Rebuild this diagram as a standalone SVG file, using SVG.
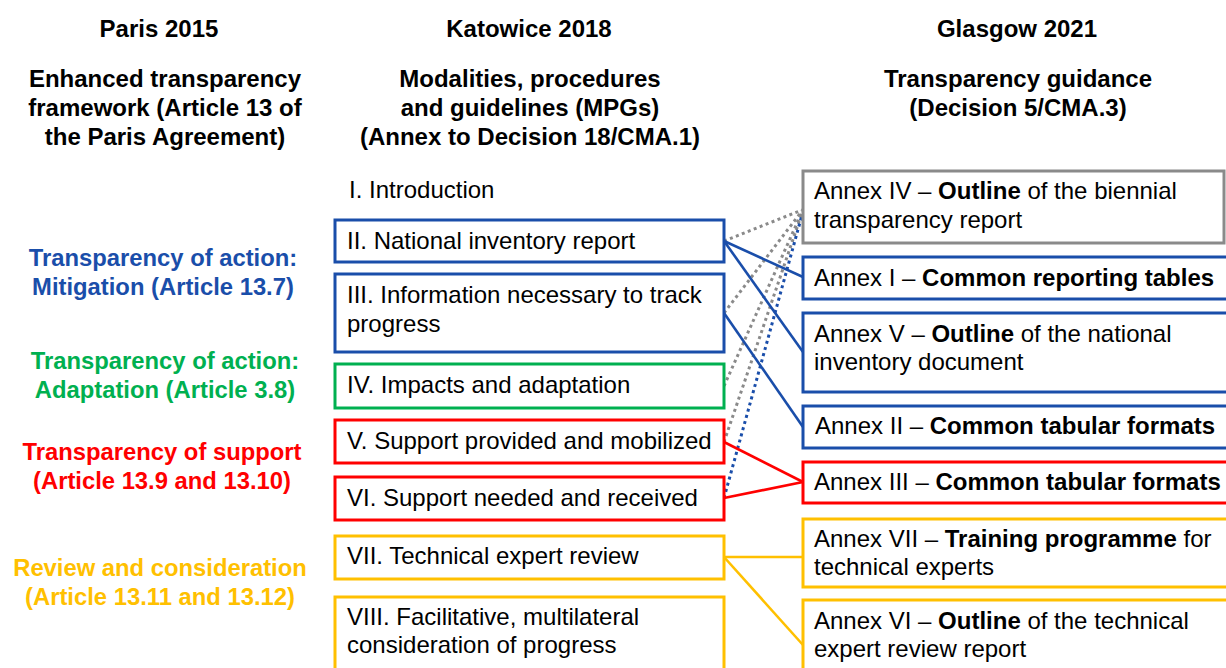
<svg xmlns="http://www.w3.org/2000/svg" width="1226" height="668" viewBox="0 0 1226 668">
  <style>
    text { font-family: "Liberation Sans", Arial, sans-serif; font-size: 24px; fill: #000; }
    .h { font-weight: bold; text-anchor: middle; }
    .lbl { font-weight: bold; text-anchor: middle; font-size: 23.8px; }
    .b { font-weight: bold; }
    .box { fill: #fff; stroke-width: 3; }
    .blue { stroke: #1A4EAA; }
    .green { stroke: #00B050; }
    .red { stroke: #FF0000; }
    .yellow { stroke: #FFC000; }
    .gray { stroke: #8A8A8A; }
    .conn { fill: none; stroke-width: 2.6; }
    .dot { fill: none; stroke-width: 3; stroke-dasharray: 3 3.4; }
  </style>
  <rect width="1226" height="668" fill="#fff"/>

  <!-- column headings -->
  <g id="head-paris">
    <text class="h" x="159" y="37">Paris 2015</text>
    <text class="h" x="165" y="87">Enhanced transparency</text>
    <text class="h" x="165" y="116">framework (Article 13 of</text>
    <text class="h" x="165" y="145">the Paris Agreement)</text>
  </g>
  <g id="head-katowice">
    <text class="h" x="529" y="37">Katowice 2018</text>
    <text class="h" x="530" y="87">Modalities, procedures</text>
    <text class="h" x="530" y="116">and guidelines (MPGs)</text>
    <text class="h" x="530" y="145">(Annex to Decision 18/CMA.1)</text>
  </g>
  <g id="head-glasgow">
    <text class="h" x="1017" y="37">Glasgow 2021</text>
    <text class="h" x="1018" y="87">Transparency guidance</text>
    <text class="h" x="1018" y="116">(Decision 5/CMA.3)</text>
  </g>

  <!-- thematic labels -->
  <g id="lbl-mitigation">
    <text class="lbl" x="163" y="266" style="fill:#1A4EAA">Transparency of action:</text>
    <text class="lbl" x="163" y="295" style="fill:#1A4EAA">Mitigation (Article 13.7)</text>
  </g>
  <g id="lbl-adaptation">
    <text class="lbl" x="165" y="369" style="fill:#00B050">Transparency of action:</text>
    <text class="lbl" x="165" y="398" style="fill:#00B050">Adaptation (Article 3.8)</text>
  </g>
  <g id="lbl-support">
    <text class="lbl" x="162" y="460" style="fill:#FF0000">Transparency of support</text>
    <text class="lbl" x="162" y="489" style="fill:#FF0000">(Article 13.9 and 13.10)</text>
  </g>
  <g id="lbl-review">
    <text class="lbl" x="160" y="576" style="fill:#FFC000">Review and consideration</text>
    <text class="lbl" x="160" y="605" style="fill:#FFC000">(Article 13.11 and 13.12)</text>
  </g>

  <!-- connectors -->
  <g id="connectors">
    <path class="dot gray" d="M724 241 L802 210"/>
    <path class="dot gray" d="M724 313 L802 211"/>
    <path class="dot gray" d="M724 386 L802 212"/>
    <path class="dot gray" d="M724 442 L802 213"/>
    <path class="dot blue" d="M724 498 L802 215"/>
    <path class="conn blue" d="M724 241 L803 277"/>
    <path class="conn blue" d="M724 241 L803 352"/>
    <path class="conn blue" d="M724 313 L803 427"/>
    <path class="conn red" d="M724 442 L803 482"/>
    <path class="conn red" d="M724 498 L803 482"/>
    <path class="conn yellow" d="M724 557 L803 557"/>
    <path class="conn yellow" d="M724 557 L803 645"/>
  </g>

  <!-- MPG sections -->
  <g id="mpg-1">
    <text x="349" y="198">I. Introduction</text>
  </g>
  <g id="mpg-2">
    <rect class="box blue" x="335" y="220" width="389" height="42"/>
    <text x="347" y="249">II. National inventory report</text>
  </g>
  <g id="mpg-3">
    <rect class="box blue" x="335" y="274" width="389" height="78"/>
    <text x="347" y="303">III. Information necessary to track</text>
    <text x="347" y="332">progress</text>
  </g>
  <g id="mpg-4">
    <rect class="box green" x="335" y="364" width="389" height="44"/>
    <text x="347" y="393">IV. Impacts and adaptation</text>
  </g>
  <g id="mpg-5">
    <rect class="box red" x="335" y="420" width="389" height="43"/>
    <text x="347" y="449">V. Support provided and mobilized</text>
  </g>
  <g id="mpg-6">
    <rect class="box red" x="335" y="477" width="389" height="43"/>
    <text x="347" y="506">VI. Support needed and received</text>
  </g>
  <g id="mpg-7">
    <rect class="box yellow" x="335" y="536" width="389" height="43"/>
    <text x="347" y="564">VII. Technical expert review</text>
  </g>
  <g id="mpg-8">
    <rect class="box yellow" x="335" y="597" width="389" height="90"/>
    <text x="347" y="625">VIII. Facilitative, multilateral</text>
    <text x="347" y="653">consideration of progress</text>
  </g>

  <!-- annexes -->
  <g id="annex-4">
    <rect class="box gray" x="803" y="171" width="421" height="72"/>
    <text x="814" y="199">Annex IV – <tspan class="b">Outline</tspan> of the biennial</text>
    <text x="814" y="228">transparency report</text>
  </g>
  <g id="annex-1">
    <rect class="box blue" x="803" y="257" width="430" height="42"/>
    <text x="814" y="286">Annex I – <tspan class="b">Common reporting tables</tspan></text>
  </g>
  <g id="annex-5">
    <rect class="box blue" x="803" y="313" width="430" height="79"/>
    <text x="814" y="342">Annex V – <tspan class="b">Outline</tspan> of the national</text>
    <text x="814" y="370">inventory document</text>
  </g>
  <g id="annex-2">
    <rect class="box blue" x="803" y="406" width="430" height="42"/>
    <text x="815" y="434">Annex II – <tspan class="b">Common tabular formats</tspan></text>
  </g>
  <g id="annex-3">
    <rect class="box red" x="803" y="462" width="430" height="41"/>
    <text x="814" y="490">Annex III – <tspan class="b">Common tabular formats</tspan></text>
  </g>
  <g id="annex-7">
    <rect class="box yellow" x="803" y="519" width="430" height="68"/>
    <text x="814" y="547">Annex VII – <tspan class="b">Training programme</tspan> for</text>
    <text x="814" y="575">technical experts</text>
  </g>
  <g id="annex-6">
    <rect class="box yellow" x="803" y="600" width="430" height="90"/>
    <text x="814" y="629">Annex VI – <tspan class="b">Outline</tspan> of the technical</text>
    <text x="814" y="657">expert review report</text>
  </g>
</svg>
